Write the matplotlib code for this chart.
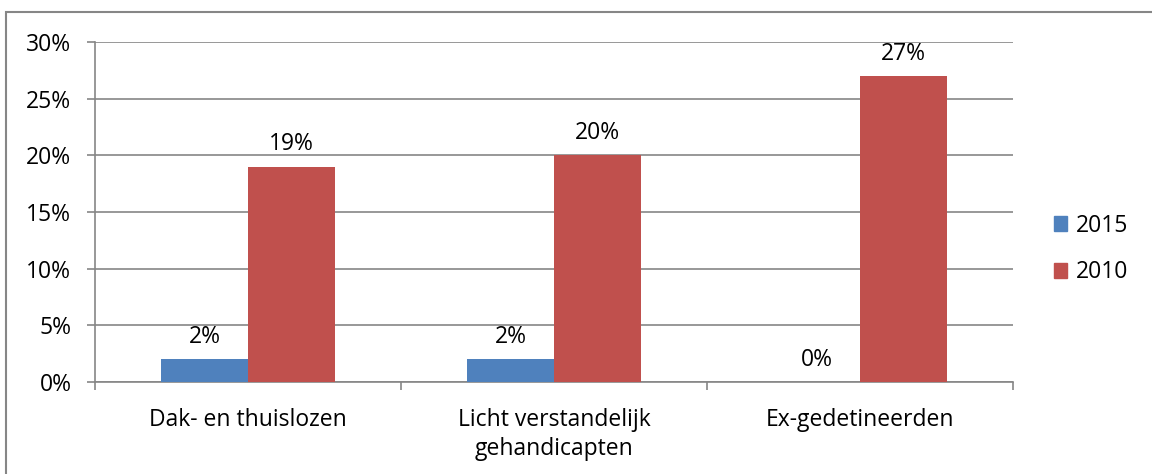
import matplotlib.pyplot as plt
import matplotlib.patches as mpatches
import numpy as np

categories = ["Dak- en thuislozen", "Licht verstandelijk\ngehandicapten", "Ex-gedetineerden"]
series_names = ["2015", "2010"]
values_2015 = [2, 2, 0]
values_2010 = [19, 20, 27]
yticks = [0, 5, 10, 15, 20, 25, 30]

colors = ["#4F81BD", "#C0504D"]
grid_color = "#868686"
font = ["Open Sans", "DejaVu Sans"]
fs = 16.5

plt.rcParams['font.family'] = font

fig = plt.figure(figsize=(11.52, 4.74), dpi=100)
ax = fig.add_axes([95/1152, (474-382)/474, (1013-95)/1152, (382-42)/474])

x = np.arange(len(categories))
w = 0.285
b1 = ax.bar(x - w/2, values_2015, w, color=colors[0], label=series_names[0], zorder=3)
b2 = ax.bar(x + w/2, values_2010, w, color=colors[1], label=series_names[1], zorder=3)

for bars, vals in ((b1, values_2015), (b2, values_2010)):
    for rect, v in zip(bars, vals):
        ax.annotate(f"{v}%", (rect.get_x() + rect.get_width()/2, v),
                    xytext=(0, 16), textcoords="offset points",
                    ha="center", va="center", fontsize=fs, color="black")

ax.set_xlim(-0.5, len(categories) - 0.5)
ax.set_ylim(0, 30)
ax.set_yticks(yticks)
ax.set_yticklabels([f"{t}%" for t in yticks], fontsize=fs)
ax.yaxis.grid(True, color=grid_color, linewidth=1.2, zorder=0)
ax.set_axisbelow(True)

ax.set_xticks(x)
ax.set_xticklabels(categories, fontsize=fs, linespacing=1.27)
ax.tick_params(axis='x', length=0, pad=19)
ax.set_xticks(np.arange(-0.5, len(categories)), minor=True)
ax.tick_params(axis='x', which='minor', length=6, width=1.2, color=grid_color)
ax.tick_params(axis='y', length=6, width=1.2, color=grid_color, pad=11)

for s in ["top", "right"]:
    ax.spines[s].set_visible(False)
for s in ["left", "bottom"]:
    ax.spines[s].set_color(grid_color)
    ax.spines[s].set_linewidth(1.2)

leg = fig.legend(handles=[mpatches.Patch(color=colors[0], label=series_names[0]),
                          mpatches.Patch(color=colors[1], label=series_names[1])],
                 loc="center left", bbox_to_anchor=(1033/1152, (474-249)/474),
                 frameon=False, fontsize=fs, handlelength=0.6, handleheight=0.6,
                 handletextpad=0.35, labelspacing=1.0)

border = mpatches.Rectangle((6/1152, -0.1), 1.2, (474-12)/474 + 0.1,
                            transform=fig.transFigure, fill=False,
                            edgecolor=grid_color, linewidth=1.5, clip_on=False)
fig.patches.append(border)

fig.savefig("out.png", dpi=100)
